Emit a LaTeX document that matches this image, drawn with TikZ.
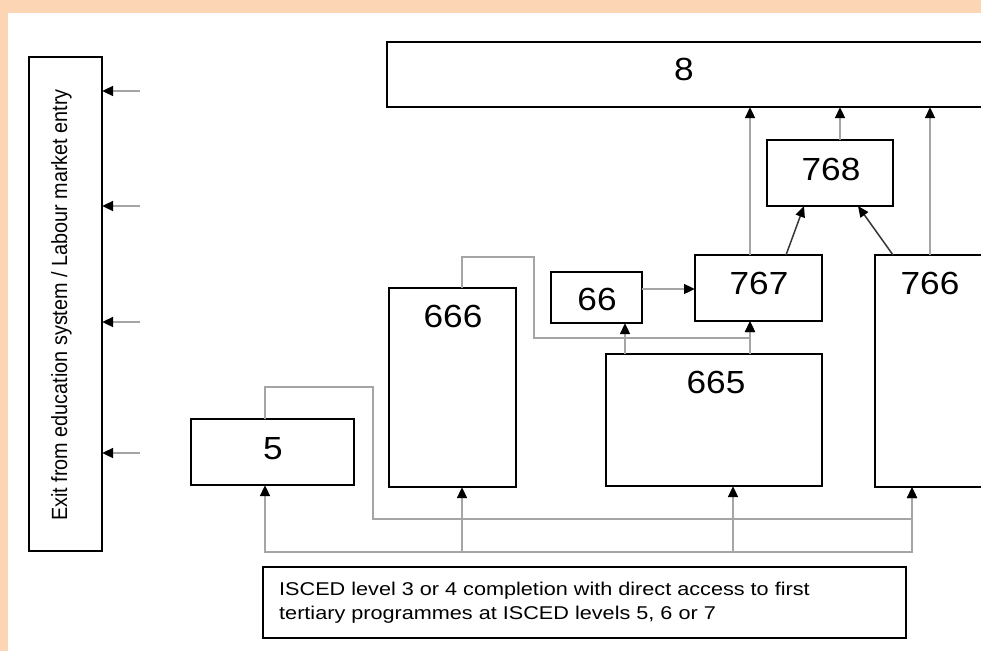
\documentclass[tikz,border=0pt]{standalone}
\usepackage{fontspec}
\setmainfont{Liberation Sans}
\newfontfamily\numfont{Liberation Sans}[FakeStretch=1.1]
\newfontfamily\notefont{Liberation Sans}[FakeStretch=1.17]
\newfontfamily\sidefont{Liberation Sans}[FakeStretch=0.9]
\usetikzlibrary{arrows.meta}

\definecolor{peach}{RGB}{251,213,180}
\definecolor{linkgray}{RGB}{165,165,165}
\definecolor{darklink}{RGB}{55,55,55}

\begin{document}
\begin{tikzpicture}[x=1pt,y=-1pt,
  box/.style={draw=black,line width=1.5pt,fill=white,inner sep=0pt,outer sep=0pt},
  num/.style={font=\numfont\fontsize{32}{32}\selectfont,inner sep=0pt,anchor=base},
  link/.style={draw=linkgray,line width=2.8pt,-{Triangle[length=11pt,width=9.5pt,color=black]}},
  plain/.style={draw=linkgray,line width=2.8pt,line cap=rect},
  diag/.style={draw=darklink,line width=1.5pt,-{Triangle[length=11pt,width=9.5pt,color=black]}}
]
\useasboundingbox (0,0) rectangle (981,651);
\clip (0,0) rectangle (981,651);

% page background and frame strips
\fill[white] (0,0) rectangle (981,651);
\fill[peach] (0,0) rectangle (981,13);
\fill[peach] (0,0) rectangle (8,651);

% boxes
\node[box,minimum width=73pt,minimum height=494pt] (exit) at (65.5,304) {};
\node[box,minimum width=713pt,minimum height=65pt] (b8) at (743.5,74.5) {};
\node[box,minimum width=126pt,minimum height=66pt] (b768) at (830,173) {};
\node[box,minimum width=127pt,minimum height=66pt] (b767) at (758.5,288) {};
\node[box,minimum width=91pt,minimum height=51pt] (b66) at (596.5,297.5) {};
\node[box,minimum width=127pt,minimum height=199pt] (b666) at (452.5,387.5) {};
\node[box,minimum width=216pt,minimum height=132pt] (b665) at (714,420) {};
\node[box,minimum width=225pt,minimum height=232pt] (b766) at (987.5,371) {};
\node[box,minimum width=163pt,minimum height=66pt] (b5) at (272.5,452) {};
\node[box,minimum width=643pt,minimum height=71pt] (isced) at (584.5,602.5) {};

% box labels
\node[num] (t8) at (684,80) {8};
\node[num] (t768) at (831,180) {768};
\node[num] (t767) at (759,294) {767};
\node[num] (t66) at (597,310) {66};
\node[num] (t666) at (453,327) {666};
\node[num] (t665) at (716,393) {665};
\node[num] (t766) at (930,294) {766};
\node[num] (t5) at (273,459) {5};

\node[font=\sidefont\fontsize{22}{22}\selectfont,rotate=90,anchor=base,inner sep=0pt]
  (texit) at (67,305) {Exit from education system / Labour market entry};

\node[font=\notefont\fontsize{18.5}{23.5}\selectfont,align=left,anchor=north west,inner sep=0pt]
  (tnote) at (279,582) {ISCED level 3 or 4 completion with direct access to first\\
  tertiary programmes at ISCED levels 5, 6 or 7};

% guide positions for connectors
\coordinate (gA) at (750,0);
\coordinate (gB) at (840,0);
\coordinate (gC) at (930,0);
\coordinate (gD1) at (786,0);
\coordinate (gD2) at (804,0);
\coordinate (gE1) at (893,0);
\coordinate (gE2) at (858,0);
\coordinate (gF) at (0,289);
\coordinate (gG) at (625,0);
\coordinate (g666) at (462,0);
\coordinate (gTop) at (0,257);
\coordinate (gMid) at (534,0);
\coordinate (gLow) at (0,338);
\coordinate (g5) at (265,0);
\coordinate (gTop5) at (0,387);
\coordinate (gTurn) at (373,0);
\coordinate (gMid2) at (0,519);
\coordinate (g665) at (733,0);
\coordinate (g766) at (912,0);
\coordinate (gBus) at (0,552);

% exits on the left
\coordinate (s1) at (140,91);
\coordinate (s2) at (140,206);
\coordinate (s3) at (140,322);
\coordinate (s4) at (140,453);
\foreach \s in {s1,s2,s3,s4}
  \draw[link] (\s) -- (exit.east |- \s);

% upper connectors
\draw[link] (b767.north -| gA) -- (b8.south -| gA);
\draw[link] (b768.north -| gB) -- (b8.south -| gB);
\draw[link] (b766.north -| gC) -- (b8.south -| gC);
\draw[diag] (b767.north -| gD1) -- (b768.south -| gD2);
\draw[diag] (b766.north -| gE1) -- (b768.south -| gE2);
\draw[link] (b66.east |- gF) -- (b767.west |- gF);
\draw[link] (b665.north -| gG) -- (b66.south -| gG);
\draw[link] (b665.north -| gA) -- (b767.south -| gA);
\draw[link] (b666.north -| g666) -- (g666 |- gTop) -- (gMid |- gTop)
  -- (gMid |- gLow) -- (gA |- gLow) -- (b767.south -| gA);

% from 5 over to 766
\draw[link] (b5.north -| g5) -- (g5 |- gTop5) -- (gTurn |- gTop5)
  -- (gTurn |- gMid2) -- (g766 |- gMid2) -- (b766.south -| g766);

% entry bus
\draw[plain] (g5 |- gBus) -- (g766 |- gBus);
\draw[link] (g5 |- gBus) -- (b5.south -| g5);
\draw[link] (g666 |- gBus) -- (b666.south -| g666);
\draw[link] (g665 |- gBus) -- (b665.south -| g665);
\draw[link] (g766 |- gBus) -- (b766.south -| g766);
\end{tikzpicture}
\end{document}
